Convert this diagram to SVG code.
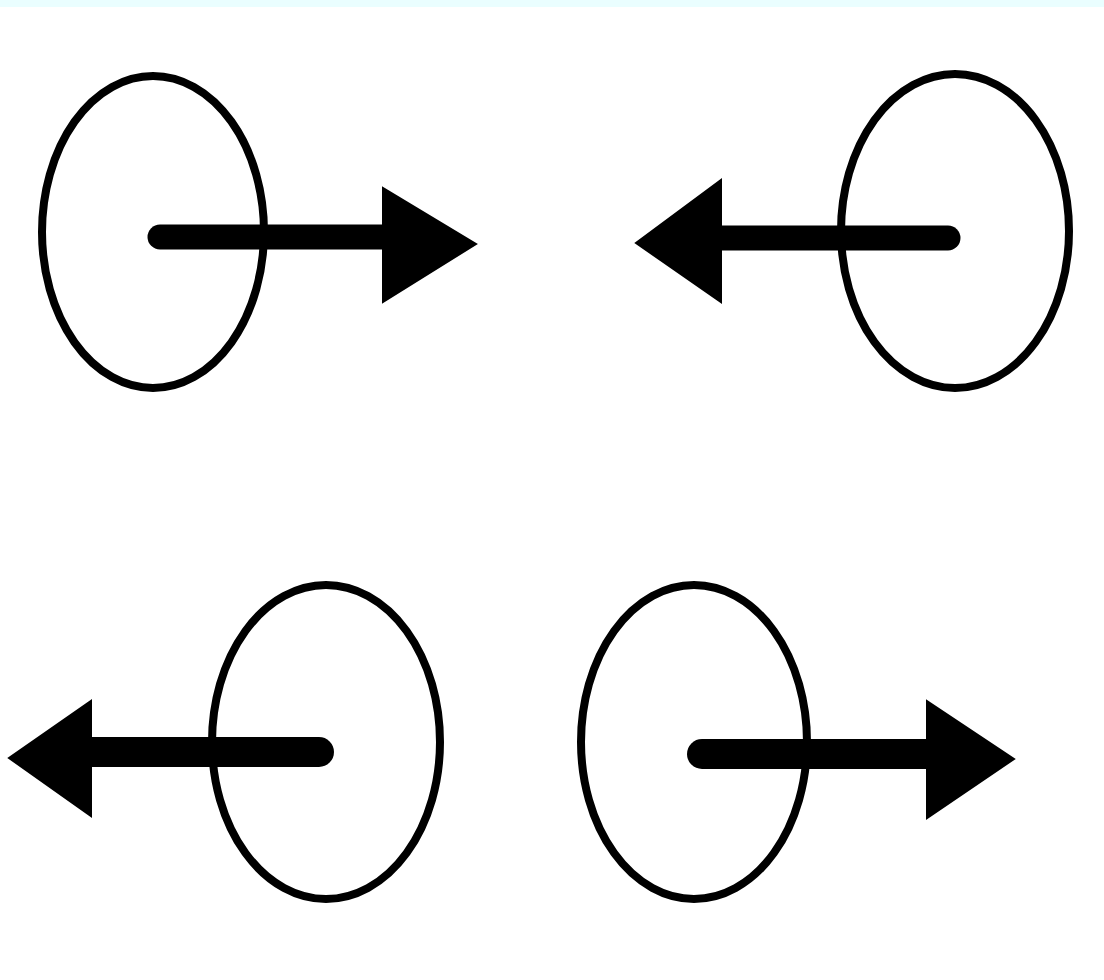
<svg xmlns="http://www.w3.org/2000/svg" width="1104" height="980" viewBox="0 0 1104 980">
  <style>
    .ring { fill: none; stroke: #000; stroke-width: 8; }
    .shaft { stroke: #000; stroke-linecap: round; fill: none; }
    .head { fill: #000; stroke: #000; stroke-width: 2; stroke-linejoin: miter; }
  </style>
  <rect x="0" y="0" width="1104" height="980" fill="#ffffff"/>
  <rect x="0" y="0" width="1104" height="7" fill="#eafeff"/>
  <g id="node-top-left">
    <ellipse class="ring" cx="153" cy="232" rx="111" ry="156"/>
  </g>
  <g id="node-top-right">
    <ellipse class="ring" cx="955" cy="231" rx="114" ry="157"/>
  </g>
  <g id="node-bottom-left">
    <ellipse class="ring" cx="326" cy="742" rx="114" ry="157"/>
  </g>
  <g id="node-bottom-right">
    <ellipse class="ring" cx="694" cy="742" rx="113" ry="157"/>
  </g>
  <g id="connectors">
    <line class="shaft" x1="160" y1="237" x2="390" y2="237" stroke-width="25"/>
    <polygon class="head" points="383,188 383,302 476,244"/>
    <line class="shaft" x1="948" y1="238" x2="715" y2="238" stroke-width="25"/>
    <polygon class="head" points="721,180 721,302 636,243"/>
    <line class="shaft" x1="319" y1="752" x2="85" y2="752" stroke-width="30"/>
    <polygon class="head" points="91,701 91,816 9,758"/>
    <line class="shaft" x1="702" y1="754" x2="933" y2="754" stroke-width="30"/>
    <polygon class="head" points="927,701 927,818 1014,759"/>
  </g>
</svg>
